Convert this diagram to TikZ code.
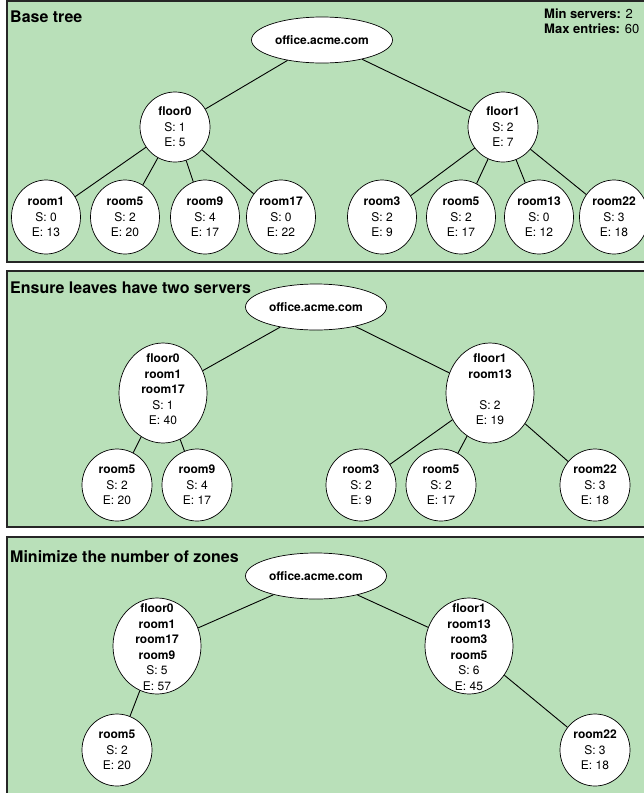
\documentclass[tikz,border=0pt]{standalone}
\usepackage{fontspec}
\setmainfont{TeX Gyre Heros}
\usetikzlibrary{shapes.geometric}
\definecolor{panelgreen}{RGB}{185,224,185}
\begin{document}
\begin{tikzpicture}[x=1pt,y=-1pt,
  panel/.style={fill=panelgreen,draw=black!85,line width=1.6pt},
  title/.style={anchor=west,inner sep=0pt,font=\fontsize{16}{19}\selectfont\bfseries},
  zoneshape/.style={ellipse,draw=black,fill=white,line width=0.7pt,inner sep=0pt},
  zonetext/.style={inner sep=0pt,align=center,font=\fontsize{12}{15.5}\selectfont},
  edge/.style={line width=0.9pt},
]
\useasboundingbox (0,0) rectangle (644,793);

% panels
\draw[panel] (7,1) rectangle (662,262);
\draw[panel] (7,271) rectangle (662,527);
\draw[panel] (7,537) rectangle (662,800);

% titles
\node[title] (t1) at (10,17) {Base tree};
\node[title] (t2) at (10,288) {Ensure leaves have two servers};
\node[title] (t3) at (10,557) {Minimize the number of zones};
\node[anchor=north west,inner sep=0pt,align=left,font=\fontsize{13}{15}\selectfont] (info) at (544,9)
  {\textbf{Min servers:} 2\\\textbf{Max entries:} 60};

% ---------- panel 1 ----------
\node[zoneshape,minimum width=141pt,minimum height=46pt] (r1) at (322,40) {};
\node[zonetext] (r1t) at (r1) {\textbf{office.acme.com}};
\node[zoneshape,minimum width=70pt,minimum height=70pt] (a0) at (175,127) {};
\node[zonetext] (a0t) at (a0) {\textbf{floor0}\\S: 1\\E: 5};
\node[zoneshape,minimum width=70pt,minimum height=70pt] (a1) at (503,127) {};
\node[zonetext] (a1t) at (a1) {\textbf{floor1}\\S: 2\\E: 7};

\foreach \n/\x/\name/\s/\e in {a2/46/room1/0/13, a3/125/room5/2/20, a4/205/room9/4/17, a5/281/room17/0/22,
  a6/382/room3/2/9, a7/461/room5/2/17, a8/539/room13/0/12, a9/614/room22/3/18}{
  \node[zoneshape,minimum width=69pt,minimum height=74pt] (\n) at (\x,217) {};
  \node[zonetext] (\n t) at (\n) {\textbf{\name}\\S: \s\\E: \e};
}
\draw[edge] (r1) -- (a0);
\draw[edge] (r1) -- (a1);
\foreach \c in {a2,a3,a4,a5} \draw[edge] (a0) -- (\c);
\foreach \c in {a6,a7,a8,a9} \draw[edge] (a1) -- (\c);

% ---------- panel 2 ----------
\node[zoneshape,minimum width=141pt,minimum height=46pt] (r2) at (316,307) {};
\node[zonetext] (r2t) at (r2) {\textbf{office.acme.com}};
\node[zoneshape,minimum width=88pt,minimum height=100pt] (b0) at (163,393) {};
\node[zonetext] (b0t) at (163,389.5) {\textbf{floor0}\\\textbf{room1}\\\textbf{room17}\\S: 1\\E: 40};
\node[zoneshape,minimum width=88pt,minimum height=100pt] (b1) at (490,393) {};
\node[zonetext] (b1t) at (490,389.5) {\textbf{floor1}\\\textbf{room13}\\[15.5pt]S: 2\\E: 19};
\foreach \n/\x/\name/\s/\e in {b2/117/room5/2/20, b3/197/room9/4/17,
  b4/361/room3/2/9, b5/441/room5/2/17, b6/595/room22/3/18}{
  \node[zoneshape,minimum width=70pt,minimum height=72pt] (\n) at (\x,485) {};
  \node[zonetext] (\n t) at (\n) {\textbf{\name}\\S: \s\\E: \e};
}
\draw[edge] (r2) -- (b0);
\draw[edge] (r2) -- (b1);
\foreach \c in {b2,b3} \draw[edge] (b0) -- (\c);
\foreach \c in {b4,b5,b6} \draw[edge] (b1) -- (\c);

% ---------- panel 3 ----------
\node[zoneshape,minimum width=141pt,minimum height=46pt] (r3) at (316,576) {};
\node[zonetext] (r3t) at (r3) {\textbf{office.acme.com}};
\node[zoneshape,minimum width=88pt,minimum height=96pt] (c0) at (157,646) {};
\node[zonetext] (c0t) at (157,647) {\textbf{floor0}\\\textbf{room1}\\\textbf{room17}\\\textbf{room9}\\S: 5\\E: 57};
\node[zoneshape,minimum width=88pt,minimum height=96pt] (c1) at (469,646) {};
\node[zonetext] (c1t) at (469,647) {\textbf{floor1}\\\textbf{room13}\\\textbf{room3}\\\textbf{room5}\\S: 6\\E: 45};
\node[zoneshape,minimum width=70pt,minimum height=72pt] (c2) at (117,750) {};
\node[zonetext] (c2t) at (c2) {\textbf{room5}\\S: 2\\E: 20};
\node[zoneshape,minimum width=70pt,minimum height=72pt] (c3) at (595,750) {};
\node[zonetext] (c3t) at (c3) {\textbf{room22}\\S: 3\\E: 18};
\draw[edge] (r3) -- (c0);
\draw[edge] (r3) -- (c1);
\draw[edge] (c0) -- (c2);
\draw[edge] (c1) -- (c3);
\end{tikzpicture}
\end{document}
